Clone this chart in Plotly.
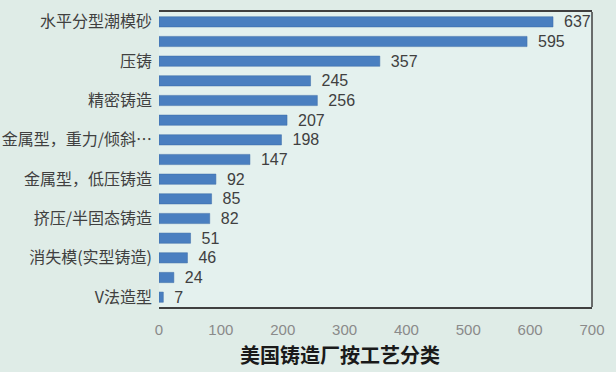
import plotly.graph_objects as go

values = [637, 595, 357, 245, 256, 207, 198, 147, 92, 85, 82, 51, 46, 24, 7]
tick_labels = ["水平分型潮模砂", "压铸", "精密铸造", "金属型，重力/倾斜…",
               "金属型，低压铸造", "挤压/半固态铸造", "消失模(实型铸造)", "V法造型"]
x_ticks = [0, 100, 200, 300, 400, 500, 600, 700]
title = "美国铸造厂按工艺分类"

positions = list(range(len(values)))
tick_positions = positions[::2]

fig = go.Figure(go.Bar(
    x=values, y=positions, orientation="h",
    marker=dict(color="#4a7fc0", line=dict(color="#3a6aa6", width=0.5)),
    width=0.52,
    text=["\u2002" + str(v) for v in values], textposition="outside", constraintext="none",
    textfont=dict(family="Liberation Sans, Arial", size=16, color="#404040"),
    cliponaxis=False,
))

fig.update_layout(
    width=616, height=372,
    margin=dict(l=159, r=24, t=12, b=65),
    paper_bgcolor="#dfece7",
    plot_bgcolor="#e4f1ee",
    showlegend=False,
    title=dict(text=title, x=0.552, xanchor="center", y=0.025, yanchor="bottom",
               font=dict(family="Noto Sans CJK SC", size=20, color="#1a1a1a", weight="bold")),
    shapes=[dict(type="line", xref="x domain", yref="y domain", x0=1, x1=1, y0=0, y1=1,
                 line=dict(color="#404040", width=1.5))],
)
fig.update_xaxes(range=[0, 700], tickvals=x_ticks, showgrid=False, zeroline=False,
                 showline=True, linecolor="#404040", linewidth=1.5, mirror=True,
                 ticks="", ticklabelstandoff=8, automargin=False,
                 tickfont=dict(family="Liberation Sans, Arial", size=15, color="#8a8a8a"))
fig.update_yaxes(range=[len(values) - 0.5, -0.5], tickvals=tick_positions, ticktext=tick_labels,
                 showgrid=False, zeroline=False, showline=False, automargin=False,
                 ticks="", ticklabelstandoff=6,
                 tickfont=dict(family="Noto Sans CJK SC", size=16, color="#404040"))

fig.write_html("out.html", config={"displayModeBar": False},
               post_script="document.body.style.margin='0';document.body.style.background='#dfece7';")
